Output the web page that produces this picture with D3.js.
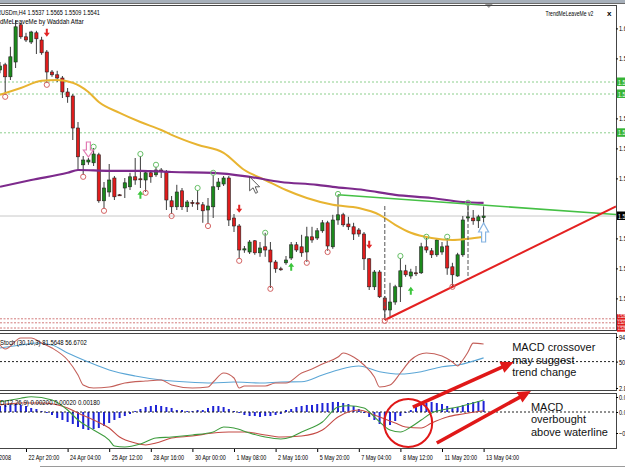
<!DOCTYPE html>
<html lang="en">
<head>
<meta charset="UTF-8">
<title>EURUSDm H4 - TrendMeLeaveMe, Stoch, MACD</title>
<script src="https://d3js.org/d3.v7.min.js"></script>
<style>
  body { margin: 0; background: #fff; }
  svg { display: block; }
  text { font-family: "Liberation Sans", Arial, sans-serif; }
</style>
</head>
<body>
<div id="chart"></div>
<script>
// ---- data ----
// H4 bars from 22 Apr 2008 00:00 to 13 May 2008 04:00 (bar index = position in array)
var open = [1.5906,1.5919,1.5889,1.5926,1.6019,1.5989,1.5976,1.5999,1.5981,1.5951,
  1.5901,1.5894,1.5886,1.5851,1.5841,1.5761,1.5669,1.5676,1.5674,1.5694,
  1.5579,1.5601,1.5636,1.5594,1.5611,1.5614,1.5639,1.5634,1.5631,1.5649,
  1.5644,1.5656,1.5651,1.5579,1.5564,1.5604,1.5564,1.5575,1.5574,1.5569,
  1.5556,1.5564,1.5614,1.5621,1.5636,1.5536,1.5516,1.5456,1.5451,1.5479,
  1.5449,1.5464,1.5456,1.5426,1.5409,1.5424,1.5436,1.5469,1.5464,1.5451,
  1.5489,1.5486,1.5504,1.5524,1.5464,1.5531,1.5544,1.5521,1.5514,1.5506,
  1.5496,1.5434,1.5364,1.5401,1.5336,1.5306,1.5326,1.5364,1.5404,1.5391,
  1.5399,1.5399,1.5464,1.5454,1.5444,1.5451,1.5466,1.5414,1.5391,1.5444,
  1.5536,1.5536,1.5529,1.5537];
var high = [1.5926,1.5924,1.5964,1.6031,1.6024,1.5999,1.6004,1.6004,1.5989,1.5956,
  1.5906,1.5904,1.5891,1.5861,1.5846,1.5776,1.5691,1.5686,1.5711,1.5699,
  1.5626,1.5671,1.5641,1.5596,1.5636,1.5649,1.5686,1.5691,1.5651,1.5656,
  1.5664,1.5661,1.5656,1.5591,1.5619,1.5611,1.5581,1.5581,1.5606,1.5576,
  1.5586,1.5644,1.5636,1.5641,1.5641,1.5546,1.5521,1.5466,1.5481,1.5481,
  1.5476,1.5499,1.5476,1.5431,1.5414,1.5441,1.5476,1.5476,1.5494,1.5514,
  1.5514,1.5511,1.5531,1.5529,1.5544,1.5594,1.5549,1.5539,1.5524,1.5511,
  1.5501,1.5436,1.5406,1.5406,1.5341,1.5374,1.5369,1.5436,1.5419,1.5409,
  1.5416,1.5474,1.5486,1.5461,1.5486,1.5476,1.5486,1.5424,1.5449,1.5541,
  1.5571,1.5556,1.5544,1.5565];
var low = [1.5898,1.5844,1.5881,1.5911,1.5984,1.5976,1.5971,1.5946,1.5944,1.5874,
  1.5889,1.5876,1.5836,1.5824,1.5731,1.5656,1.5644,1.5669,1.5666,1.5574,
  1.5559,1.5589,1.5581,1.5591,1.5586,1.5606,1.5619,1.5611,1.5601,1.5624,
  1.5639,1.5636,1.5556,1.5546,1.5556,1.5556,1.5551,1.5564,1.5556,1.5524,
  1.5521,1.5536,1.5606,1.5616,1.5516,1.5501,1.5434,1.5449,1.5446,1.5444,
  1.5439,1.5439,1.5361,1.5399,1.5404,1.5419,1.5431,1.5451,1.5439,1.5426,
  1.5474,1.5481,1.5499,1.5454,1.5459,1.5519,1.5514,1.5506,1.5481,1.5489,
  1.5406,1.5356,1.5356,1.5336,1.5281,1.5289,1.5319,1.5326,1.5389,1.5384,
  1.5391,1.5396,1.5449,1.5436,1.5439,1.5444,1.5394,1.5364,1.5389,1.5439,
  1.5529,1.5519,1.5511,1.5509];
var close = [1.5916,1.5889,1.5939,1.6014,1.5989,1.5981,1.6001,1.5984,1.5949,1.5901,
  1.5894,1.5886,1.5851,1.5839,1.5761,1.5689,1.5681,1.5681,1.5696,1.5579,
  1.5611,1.5631,1.5589,1.5593,1.5624,1.5639,1.5631,1.5633,1.5649,1.5639,
  1.5656,1.5654,1.5581,1.5564,1.5601,1.5564,1.5576,1.5572,1.5571,1.5554,
  1.5566,1.5614,1.5626,1.5636,1.5531,1.5516,1.5456,1.5459,1.5476,1.5449,
  1.5461,1.5456,1.5426,1.5409,1.5408,1.5431,1.5469,1.5456,1.5449,1.5489,
  1.5481,1.5504,1.5524,1.5466,1.5531,1.5544,1.5519,1.5514,1.5496,1.5496,
  1.5434,1.5364,1.5401,1.5339,1.5306,1.5326,1.5364,1.5404,1.5394,1.5401,
  1.5397,1.5464,1.5456,1.5444,1.5481,1.5464,1.5411,1.5394,1.5444,1.5531,
  1.5539,1.5529,1.5539,1.5541];

var xLabels = ["21 Apr 2008", "22 Apr 20:00", "24 Apr 04:00", "25 Apr 12:00", "28 Apr 16:00",
  "30 Apr 00:00", "1 May 08:00", "2 May 16:00", "5 May 20:00", "7 May 04:00",
  "8 May 12:00", "11 May 20:00", "13 May 04:00"];
var xLabelBars = [-4, 5, 13, 21, 29, 37, 45, 53, 61, 69, 77, 85, 93];

var priceTicks = [1.6010, 1.5935, 1.5785, 1.5710, 1.5635, 1.5485, 1.5410, 1.5335];
var stochTicks = [94.0195, 50, 2.8105];
var macdTicks = [0.0025, 0, -0.0035];

// moving averages (sampled points along the curves)
var maSlowBars = [0, 4, 8, 11, 14, 17, 19, 23, 27, 31, 33, 38, 43, 47, 51, 55, 59, 64, 69, 73, 76, 79, 83, 87, 90, 93];
var maSlow = [1.5844, 1.5861, 1.5879, 1.5881, 1.5874, 1.5851, 1.5826, 1.5799, 1.5776, 1.5756, 1.5744, 1.5719, 1.5699,
  1.5656, 1.5631, 1.5606, 1.5586, 1.5569, 1.5561, 1.5544, 1.5519, 1.5499, 1.5486, 1.5481, 1.5484, 1.5489];
var maLongBars = [0, 6, 13, 15, 21, 27, 33, 41, 48, 54, 61, 64, 70, 76, 83, 89, 93];
var maLong = [1.5614, 1.5631, 1.5649, 1.5656, 1.5654, 1.5654, 1.5651, 1.5649, 1.5639, 1.5626, 1.5619, 1.5614,
  1.5606, 1.5594, 1.5586, 1.5576, 1.5574];

// horizontal levels
var greenLevels = [1.5876, 1.5846, 1.5749];
var redLevels = [1.5284, 1.5274, 1.5261];
var lastPrice = 1.5541;

// TrendMeLeaveMe lines: [bar, price] anchors
var resistance = [[65, 1.5594], [90, 1.5571]];
var support = [[74, 1.5281], [87, 1.5364]];
var markerBars = [74, 90];

// fractal circles and signal arrows: [bar, price]
var lowCircles = [[1, 1.5839], [9, 1.5869], [16, 1.5639], [20, 1.5554], [28, 1.5599], [33, 1.5541], [40, 1.5516],
  [46, 1.5429], [52, 1.5359], [59, 1.5424], [63, 1.5451], [74, 1.5279], [87, 1.5364]];
var highCircles = [[18, 1.5714], [27, 1.5696], [30, 1.5669], [38, 1.5611], [41, 1.5649], [51, 1.5499], [65, 1.5596],
  [77, 1.5441], [82, 1.5489], [86, 1.5489], [90, 1.5574]];
var sellArrows = [[9, 1.5999], [46, 1.5559], [71, 1.5469]];
var buyArrows = [[27, 1.5594], [56, 1.5414], [79, 1.5354]];
var sellHollow = [[17, 1.5706]];
var buyHollow = [[93, 1.5501]];

// Stochastic (30,10,3)
var stochMainBars = [0,1,4,6,8,10,13,15,16,18,21,24,28,31,33,37,40,41,43,45,46,47,51,53,55,58,60,62,65,66,68,70,72,73,75,77,79,82,85,87,88,89,90,91,93];
var stochMain = [79.7,72.5,92.2,92.2,83.3,74.3,52.9,26.1,8.2,2.8,4.6,11.8,15.3,17.1,8.2,2.8,4.6,13.5,29.6,20.7,2.8,6.4,6.4,11.8,11.8,29.6,36.8,45.7,58.2,65.4,58.2,43.9,22.5,4.6,8.2,29.6,52.9,65.4,60.0,49.3,42.1,52.9,67.2,83.0,81.6];
var stochSignalBars = [0,4,7,10,13,17,21,26,31,36,41,45,50,54,58,62,65,69,73,77,81,85,88,93];
var stochSignal = [74.3,79.7,83.3,79.7,65.4,49.3,35.0,24.3,17.1,13.5,11.8,13.5,11.8,13.5,14.1,26.1,35.0,42.1,32.0,27.8,32.0,40.9,43.9,56.7];

// MACD (12,26,9)
var macdBars = [0,4,6,10,13,15,18,21,22,24,27,30,33,37,41,43,45,48,51,54,56,58,62,65,67,70,72,75,77,79,81,83,86,88,91,93];
var macdMain = [0.0017,0.0023,0.00255,0.002,0.00033,-0.00133,-0.003,-0.00467,-0.00567,-0.00583,-0.00533,-0.00433,
  -0.00417,-0.00383,-0.00333,-0.0025,-0.00267,-0.0035,-0.00417,-0.0045,-0.00417,-0.00333,-0.00167,0.00083,0.00105,
  0.00067,-0.00083,-0.003,-0.00333,-0.0025,-0.00133,-0.00017,0.0005,0.00083,0.0015,0.002];
var macdSignalBars = [0,4,8,13,15,18,21,23,26,28,30,33,37,41,44,47,51,54,58,62,65,69,72,76,78,81,83,86,89,93];
var macdSignal = [0.00117,0.0015,0.0015,0.00067,-0.00017,-0.00133,-0.00267,-0.00417,-0.00517,-0.0055,-0.00517,
  -0.00433,-0.004,-0.0035,-0.00333,-0.00333,-0.00383,-0.00417,-0.004,-0.003,-0.00083,0.00033,-0.0005,-0.00183,
  -0.0025,-0.00267,-0.00183,-0.00083,-0.00033,0.0002];
var macdHist = [
  0.001,0.00117,0.00117,0.00133,0.00117,0.001,0.00067,0.0005,0.00017,-0.00017,
  -0.0005,-0.001,-0.00133,-0.00167,-0.002,-0.0025,-0.00283,-0.003,-0.00283,-0.00267,
  -0.00233,-0.00183,-0.00133,-0.001,-0.00067,-0.00033,0.00017,0.0005,0.00083,0.001,
  0.00117,0.001,0.00083,0.00067,0.00033,0.00033,0.00017,0.00017,0.00033,0.00033,
  0.00067,0.001,0.001,0.00083,0.0005,0.00017,-0.00017,-0.0005,-0.00067,-0.00067,
  -0.00083,-0.00067,-0.00067,-0.0005,-0.00033,0.00033,0.0005,0.00083,0.001,0.00117,
  0.00117,0.00133,0.0015,0.0015,0.00167,0.00167,0.0015,0.00133,0.001,0.0005,
  -0.00017,-0.00083,-0.00133,-0.002,-0.0025,-0.00217,-0.0015,-0.00067,-0.00017,0.00033,
  0.00083,0.00133,0.0015,0.00167,0.0015,0.00133,0.001,0.00067,0.00083,0.00117,
  0.0015,0.00167,0.00183,0.00183];

// annotations drawn on the screenshot (bar, panel value)
var notes = [
  {lines: ["MACD crossover", "may suggest", "trend change"], bar: 98.5, panel: "stoch", value: 69},
  {lines: ["MACD", "overbought", "above waterline"], bar: 102.1, panel: "macd", value: 0.0002}
];
var bigArrows = [
  {from: [79.4, "macd", 0.00083], to: [98.8, "stoch", 49.3]},
  {from: [84, "macd", -0.00517], to: [102.1, "macd", 0.0035]}
];
var ring = {bar: 78.5, panel: "macd", value: -0.00183};

// ---- layout ----
var W = 625, H = 469, plotRight = 616;
var panels = {
  main:  {top: 5, bottom: 331},
  stoch: {top: 333, bottom: 391},
  macd:  {top: 393, bottom: 449}
};

var x = d3.scaleLinear().domain([0, 93]).range([0, 483.6]);
var y = d3.scaleLinear().domain([1.6081, 1.5261]).range([0, 328]);
var yS = d3.scaleLinear().domain([94, 2.8]).range([337, 388]);
var yM = d3.scaleLinear().domain([0, 0.0025]).range([412, 397]);
function yOf(panel, v) { return panel === "stoch" ? yS(v) : panel === "macd" ? yM(v) : y(v); }

var svg = d3.select("#chart").append("svg")
    .attr("width", W).attr("height", H)
    .style("background", "#fff");

function textWidth(str, size, weight) {
  var probe = svg.append("text").attr("font-size", size).attr("font-weight", weight || null).text(str);
  var w = probe.node().getComputedTextLength();
  probe.remove();
  return w;
}

// MT4 style condensed text; opts.width = wanted width of the visible part
function mtText(parent, px, py, str, opts) {
  opts = opts || {};
  var size = opts.size || 8;
  var cutW = opts.cut ? textWidth(opts.cut, size) : 0;
  var sx = opts.sx || 0.66;
  if (opts.width) sx = opts.width / (textWidth(str, size, opts.bold ? "bold" : null) - cutW);
  return parent.append("g")
      .attr("transform", "translate(" + px + "," + py + ") scale(" + sx + ",1)")
    .append("text")
      .attr("x", -cutW)
      .attr("font-size", size)
      .attr("fill", opts.fill || "#000")
      .attr("font-weight", opts.bold ? "bold" : null)
      .text(str);
}

// top strip
svg.append("rect").attr("x", 0).attr("y", 0).attr("width", W).attr("height", 3).attr("fill", "#a7b0ba");
svg.append("line").attr("x1", 0).attr("x2", W).attr("y1", 3.5).attr("y2", 3.5).attr("stroke", "#6b6b6b");
svg.append("path")
    .attr("d", "M" + (x(94) - 4) + ",4 L" + (x(94) + 4) + ",4 L" + x(94) + ",8 Z")
    .attr("fill", "#9a9a9a");

// clip paths + borders
var defs = svg.append("defs");
Object.keys(panels).forEach(function(k) {
  var p = panels[k];
  defs.append("clipPath").attr("id", "clip-" + k)
    .append("rect").attr("x", 0).attr("y", p.top).attr("width", plotRight).attr("height", p.bottom - p.top);
  svg.append("rect")
      .attr("x", -1).attr("y", p.top + 0.5)
      .attr("width", plotRight + 1.5).attr("height", p.bottom - p.top - 1)
      .attr("fill", "none").attr("stroke", "#444");
});

// ---------- main panel ----------
var main = svg.append("g").attr("clip-path", "url(#clip-main)");

main.selectAll("line.glevel").data(greenLevels).join("line")
    .attr("class", "glevel")
    .attr("x1", 0).attr("x2", plotRight)
    .attr("y1", function(d) { return y(d); }).attr("y2", function(d) { return y(d); })
    .attr("stroke", "#8ccf8c").attr("stroke-dasharray", "2,2");
main.selectAll("line.rlevel").data(redLevels).join("line")
    .attr("class", "rlevel")
    .attr("x1", 0).attr("x2", plotRight)
    .attr("y1", function(d) { return y(d); }).attr("y2", function(d) { return y(d); })
    .attr("stroke", "#d27b7b").attr("stroke-dasharray", "2,1.5");
main.append("line")
    .attr("x1", 0).attr("x2", plotRight)
    .attr("y1", y(lastPrice)).attr("y2", y(lastPrice))
    .attr("stroke", "#c8c8c8");

var bars = open.map(function(o, i) {
  return {i: i, o: o, h: high[i], l: low[i], c: close[i]};
});

main.selectAll("line.wick").data(bars).join("line")
    .attr("class", "wick")
    .attr("x1", function(d) { return x(d.i); }).attr("x2", function(d) { return x(d.i); })
    .attr("y1", function(d) { return y(d.h); }).attr("y2", function(d) { return y(d.l); })
    .attr("stroke", "#3c3c3c");
main.selectAll("rect.body").data(bars).join("rect")
    .attr("class", "body")
    .attr("x", function(d) { return x(d.i) - 1.6; })
    .attr("width", 3.2)
    .attr("y", function(d) { return y(Math.max(d.o, d.c)); })
    .attr("height", function(d) { return Math.max(1, Math.abs(y(d.o) - y(d.c))); })
    .attr("fill", function(d) { return d.c >= d.o ? "#1c8a1c" : "#e01c1c"; })
    .attr("stroke", "#222").attr("stroke-width", 0.6);

// moving averages
var maLine = d3.line().curve(d3.curveMonotoneX)
    .x(function(d) { return x(d[0]); }).y(function(d) { return y(d[1]); });
main.append("path")
    .datum(d3.zip(maSlowBars, maSlow))
    .attr("d", maLine).attr("fill", "none")
    .attr("stroke", "#e8b431").attr("stroke-width", 2);
main.append("path")
    .datum(d3.zip(maLongBars, maLong))
    .attr("d", maLine).attr("fill", "none")
    .attr("stroke", "#7d2a8c").attr("stroke-width", 2.2);

// trend lines, extended to the right edge
function extend(a, b) {
  var slope = (b[1] - a[1]) / (b[0] - a[0]);
  var endBar = x.invert(plotRight);
  return [a, [endBar, a[1] + slope * (endBar - a[0])]];
}
function lineAt(a, b, bar) { return a[1] + (b[1] - a[1]) / (b[0] - a[0]) * (bar - a[0]); }
main.append("path")
    .datum(extend(resistance[0], resistance[1]))
    .attr("d", d3.line().x(function(d) { return x(d[0]); }).y(function(d) { return y(d[1]); }))
    .attr("stroke", "#45c045").attr("stroke-width", 1.6).attr("fill", "none");
main.append("path")
    .datum(extend(support[0], support[1]))
    .attr("d", d3.line().x(function(d) { return x(d[0]); }).y(function(d) { return y(d[1]); }))
    .attr("stroke", "#e42121").attr("stroke-width", 2).attr("fill", "none");

// dashed marker lines between the two trend lines
main.selectAll("line.mark").data(markerBars).join("line")
    .attr("class", "mark")
    .attr("x1", function(d) { return x(d); }).attr("x2", function(d) { return x(d); })
    .attr("y1", function(d) { return y(Math.min(lineAt(resistance[0], resistance[1], d), lastPrice + 0.0025)); })
    .attr("y2", function(d) { return y(lineAt(support[0], support[1], d)); })
    .attr("stroke", "#555").attr("stroke-dasharray", "4,2");

// fractal circles
main.selectAll("circle.lo").data(lowCircles).join("circle")
    .attr("class", "lo")
    .attr("cx", function(d) { return x(d[0]); }).attr("cy", function(d) { return y(d[1]); })
    .attr("r", 2.6).attr("fill", "none").attr("stroke", "#d46464");
main.selectAll("circle.hi").data(highCircles).join("circle")
    .attr("class", "hi")
    .attr("cx", function(d) { return x(d[0]); }).attr("cy", function(d) { return y(d[1]); })
    .attr("r", 2.6).attr("fill", "none").attr("stroke", "#68c068");

// signal arrows
var downArrow = "M-1,-4 L1,-4 L1,0 L3,0 L0,4 L-3,0 L-1,0 Z";
var upArrow = "M-1,4 L1,4 L1,0 L3,0 L0,-4 L-3,0 L-1,0 Z";
main.selectAll("path.sell").data(sellArrows).join("path")
    .attr("class", "sell").attr("d", downArrow)
    .attr("transform", function(d) { return "translate(" + x(d[0]) + "," + y(d[1]) + ")"; })
    .attr("fill", "#e22424");
main.selectAll("path.buy").data(buyArrows).join("path")
    .attr("class", "buy").attr("d", upArrow)
    .attr("transform", function(d) { return "translate(" + x(d[0]) + "," + y(d[1]) + ")"; })
    .attr("fill", "#3cc63c");
main.selectAll("path.sellh").data(sellHollow).join("path")
    .attr("class", "sellh").attr("d", "M-2,-8 L2,-8 L2,0 L5,0 L0,7 L-5,0 L-2,0 Z")
    .attr("transform", function(d) { return "translate(" + x(d[0]) + "," + y(d[1]) + ")"; })
    .attr("fill", "#fff").attr("stroke", "#e27ab4").attr("stroke-width", 1.2);
main.selectAll("path.buyh").data(buyHollow).join("path")
    .attr("class", "buyh").attr("d", "M-2,10 L2,10 L2,0 L5,0 L0,-9 L-5,0 L-2,0 Z")
    .attr("transform", function(d) { return "translate(" + x(d[0]) + "," + y(d[1]) + ")"; })
    .attr("fill", "#fff").attr("stroke", "#86b4e2").attr("stroke-width", 1.2);

// mouse pointer left on the chart
main.append("path")
    .attr("d", "M0,0 L0,14 L3.5,11 L6,16.5 L8,15.5 L5.6,10 L10,10 Z")
    .attr("transform", "translate(" + x(48) + "," + y(1.5639) + ")")
    .attr("fill", "#fff").attr("stroke", "#333").attr("stroke-width", 0.8);

// header texts
mtText(svg, 1, 14.5, "EURUSDm,H4  1.5537 1.5565 1.5509 1.5541", {cut: "EUR", width: 99});
mtText(svg, 0, 23.5, "TrendMeLeaveMe by Waddah Attar", {cut: "Tren", width: 84});
mtText(svg, 545.5, 15.5, "TrendMeLeaveMe v2", {width: 48});
mtText(svg, 607, 15.5, "x", {bold: true, sx: 1});

// price axis
function sideAxis(scale, ticks, fmt) {
  svg.append("g")
      .attr("transform", "translate(" + plotRight + ",0)")
      .call(d3.axisRight(scale).tickValues(ticks).tickSize(2).tickFormat(fmt))
      .call(function(g) {
        g.attr("font-size", 8).attr("font-family", null);
        g.select(".domain").remove();
        g.selectAll("text").attr("transform", "scale(0.7,1)").attr("x", 3 / 0.7);
      });
}
sideAxis(y, priceTicks, d3.format(".4f"));

// price labels on the right, stacked so they do not collide
function priceTags(levels, fill, h) {
  var ys = levels.map(function(v) { return y(v); }).sort(d3.ascending);
  var placed = [];
  ys.forEach(function(v, i) { placed.push(i === 0 ? v : Math.max(v, placed[i - 1] + h)); });
  var shift = (d3.mean(ys) - d3.mean(placed));
  levels.slice().sort(function(a, b) { return b - a; }).forEach(function(v, i) {
    var cy = placed[i] + shift;
    svg.append("rect").attr("x", plotRight + 1).attr("y", cy - h / 2)
        .attr("width", 40).attr("height", h - 0.5).attr("fill", fill);
    mtText(svg, plotRight + 2, cy + h / 2 - 2, d3.format(".4f")(v), {fill: "#fff", size: h - 1.5, sx: 0.7});
  });
}
priceTags(greenLevels, "#36b436", 9);
priceTags(redLevels, "#e01c1c", 6);
priceTags([lastPrice], "#000", 9);

// ---------- stochastic panel ----------
var st = svg.append("g").attr("clip-path", "url(#clip-stoch)");
st.append("line").attr("x1", 0).attr("x2", plotRight).attr("y1", yS(50)).attr("y2", yS(50))
    .attr("stroke", "#222").attr("stroke-dasharray", "2,2");
var stLine = d3.line().curve(d3.curveMonotoneX)
    .x(function(d) { return x(d[0]); }).y(function(d) { return yS(d[1]); });
st.append("path").datum(d3.zip(stochSignalBars, stochSignal))
    .attr("d", stLine).attr("fill", "none").attr("stroke", "#5ba6d6").attr("stroke-width", 1.1);
st.append("path").datum(d3.zip(stochMainBars, stochMain))
    .attr("d", stLine).attr("fill", "none").attr("stroke", "#c4605a").attr("stroke-width", 1.1);
mtText(svg, 0, 345, "Stoch (30,10,3) 81.5648 56.6702", {width: 87});
sideAxis(yS, stochTicks, function(d) { return d === 50 ? "50" : d3.format(".4f")(d); });

// ---------- MACD panel ----------
var md = svg.append("g").attr("clip-path", "url(#clip-macd)");
md.selectAll("rect.hist").data(macdHist).join("rect")
    .attr("class", "hist")
    .attr("x", function(d, i) { return x(i) - 1; })
    .attr("width", 2)
    .attr("y", function(d) { return Math.min(yM(d), yM(0)); })
    .attr("height", function(d) { return Math.max(0.5, Math.abs(yM(d) - yM(0))); })
    .attr("fill", "#1f23d6");
md.append("line").attr("x1", 0).attr("x2", plotRight).attr("y1", yM(0)).attr("y2", yM(0))
    .attr("stroke", "#222").attr("stroke-dasharray", "2,2");
var mdLine = d3.line().curve(d3.curveMonotoneX)
    .x(function(d) { return x(d[0]); }).y(function(d) { return yM(d[1]); });
md.append("path").datum(d3.zip(macdSignalBars, macdSignal))
    .attr("d", mdLine).attr("fill", "none").attr("stroke", "#c44a44").attr("stroke-width", 1.1);
md.append("path").datum(d3.zip(macdBars, macdMain))
    .attr("d", mdLine).attr("fill", "none").attr("stroke", "#3e9c3e").attr("stroke-width", 1.1);
mtText(svg, 0, 404.5, "MACD(12,26,9) 0.00200 0.00020 0.00180", {cut: "MAC", width: 100});
sideAxis(yM, macdTicks, d3.format(".5f"));

// ---------- time axis ----------
svg.append("g")
    .attr("transform", "translate(0," + panels.macd.bottom + ")")
    .call(d3.axisBottom(x).tickValues(xLabelBars).tickSize(3)
      .tickFormat(function(d, i) { return xLabels[i]; }))
    .call(function(g) {
      g.attr("font-size", 8).attr("font-family", null);
      g.select(".domain").remove();
      g.selectAll("text")
          .attr("text-anchor", "start")
          .attr("transform", "scale(0.68,1)")
          .attr("x", 2 / 0.68).attr("y", 5);
    });
svg.append("line").attr("x1", 40).attr("x2", W).attr("y1", 466.5).attr("y2", 466.5).attr("stroke", "#9a9a9a");

// ---------- annotations ----------
var ann = svg.append("g");
ann.append("circle")
    .attr("cx", x(ring.bar)).attr("cy", yOf(ring.panel, ring.value)).attr("r", 24)
    .attr("fill", "none").attr("stroke", "#e01818").attr("stroke-width", 2);

bigArrows.forEach(function(a) {
  var x0 = x(a.from[0]), y0 = yOf(a.from[1], a.from[2]);
  var x1 = x(a.to[0]), y1 = yOf(a.to[1], a.to[2]);
  var ang = Math.atan2(y1 - y0, x1 - x0), len = 13, half = 6;
  var bx = x1 - len * Math.cos(ang), by = y1 - len * Math.sin(ang);
  ann.append("line").attr("x1", x0).attr("y1", y0).attr("x2", bx + 2 * Math.cos(ang)).attr("y2", by + 2 * Math.sin(ang))
      .attr("stroke", "#e01818").attr("stroke-width", 3.6);
  var pts = [[x1, y1],
    [bx + half * Math.sin(ang), by - half * Math.cos(ang)],
    [bx - half * Math.sin(ang), by + half * Math.cos(ang)]];
  ann.append("path").attr("d", "M" + pts.join("L") + "Z").attr("fill", "#e01818");
});

notes.forEach(function(n) {
  var t = ann.append("text")
      .attr("x", x(n.bar)).attr("y", yOf(n.panel, n.value))
      .attr("font-size", 11).attr("fill", "#111");
  t.selectAll("tspan").data(n.lines).join("tspan")
      .attr("x", x(n.bar)).attr("dy", function(d, i) { return i === 0 ? 0 : 12.6; })
      .text(function(d) { return d; });
});
</script>
</body>
</html>
